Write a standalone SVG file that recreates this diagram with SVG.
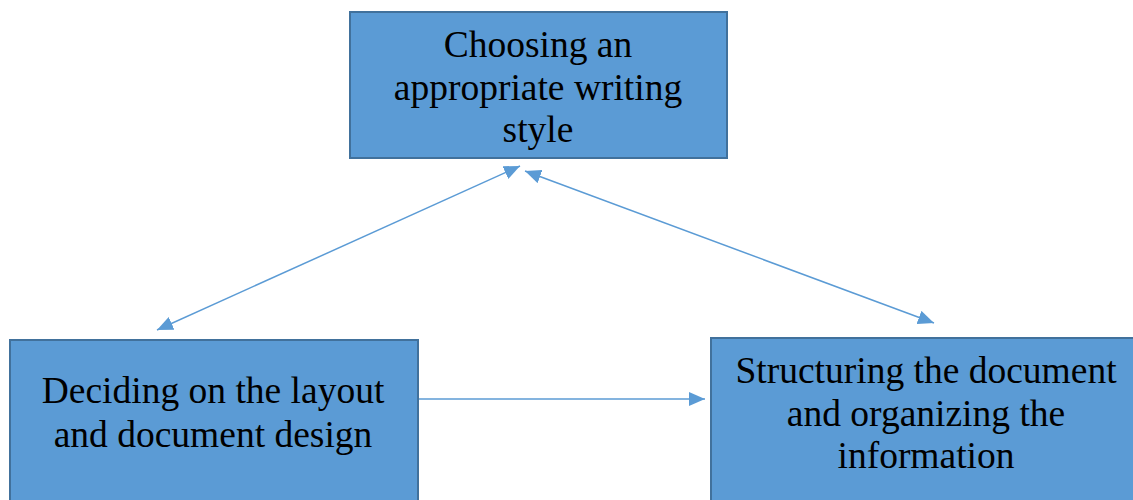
<svg xmlns="http://www.w3.org/2000/svg" width="1133" height="500" viewBox="0 0 1133 500">
  <style>
    .box { fill: #5B9BD5; stroke: #41719C; stroke-width: 2; }
    .label { font-family: "Liberation Serif", "Times New Roman", serif; font-size: 37.5px; fill: #000; text-anchor: middle; }
    .link { stroke: #5B9BD5; stroke-width: 1.5; fill: none; }
  </style>
  <defs>
    <marker id="arrow" viewBox="0 0 10 10" refX="10" refY="5" markerWidth="16" markerHeight="14" markerUnits="userSpaceOnUse" orient="auto-start-reverse" preserveAspectRatio="none">
      <path d="M0,0 L10,5 L0,10 Z" fill="#5B9BD5"/>
    </marker>
  </defs>
  <rect width="1133" height="500" fill="#ffffff"/>

  <g id="connectors">
    <line class="link" x1="157" y1="330" x2="520" y2="166" marker-start="url(#arrow)" marker-end="url(#arrow)"/>
    <line class="link" x1="525" y1="171" x2="934" y2="323" marker-start="url(#arrow)" marker-end="url(#arrow)"/>
    <line class="link" x1="419" y1="399" x2="705" y2="399" marker-end="url(#arrow)"/>
  </g>

  <g id="node-style">
    <rect class="box" x="350" y="12" width="377" height="146"/>
    <text class="label" x="538" y="57">Choosing an</text>
    <text class="label" x="538" y="100">appropriate writing</text>
    <text class="label" x="538" y="142">style</text>
  </g>

  <g id="node-layout">
    <rect class="box" x="10" y="340" width="408" height="170"/>
    <text class="label" x="213" y="403">Deciding on the layout</text>
    <text class="label" x="213" y="447">and document design</text>
  </g>

  <g id="node-structure">
    <rect class="box" x="711" y="338" width="432" height="172"/>
    <text class="label" x="926" y="383">Structuring the document</text>
    <text class="label" x="926" y="426">and organizing the</text>
    <text class="label" x="926" y="468">information</text>
  </g>
</svg>
